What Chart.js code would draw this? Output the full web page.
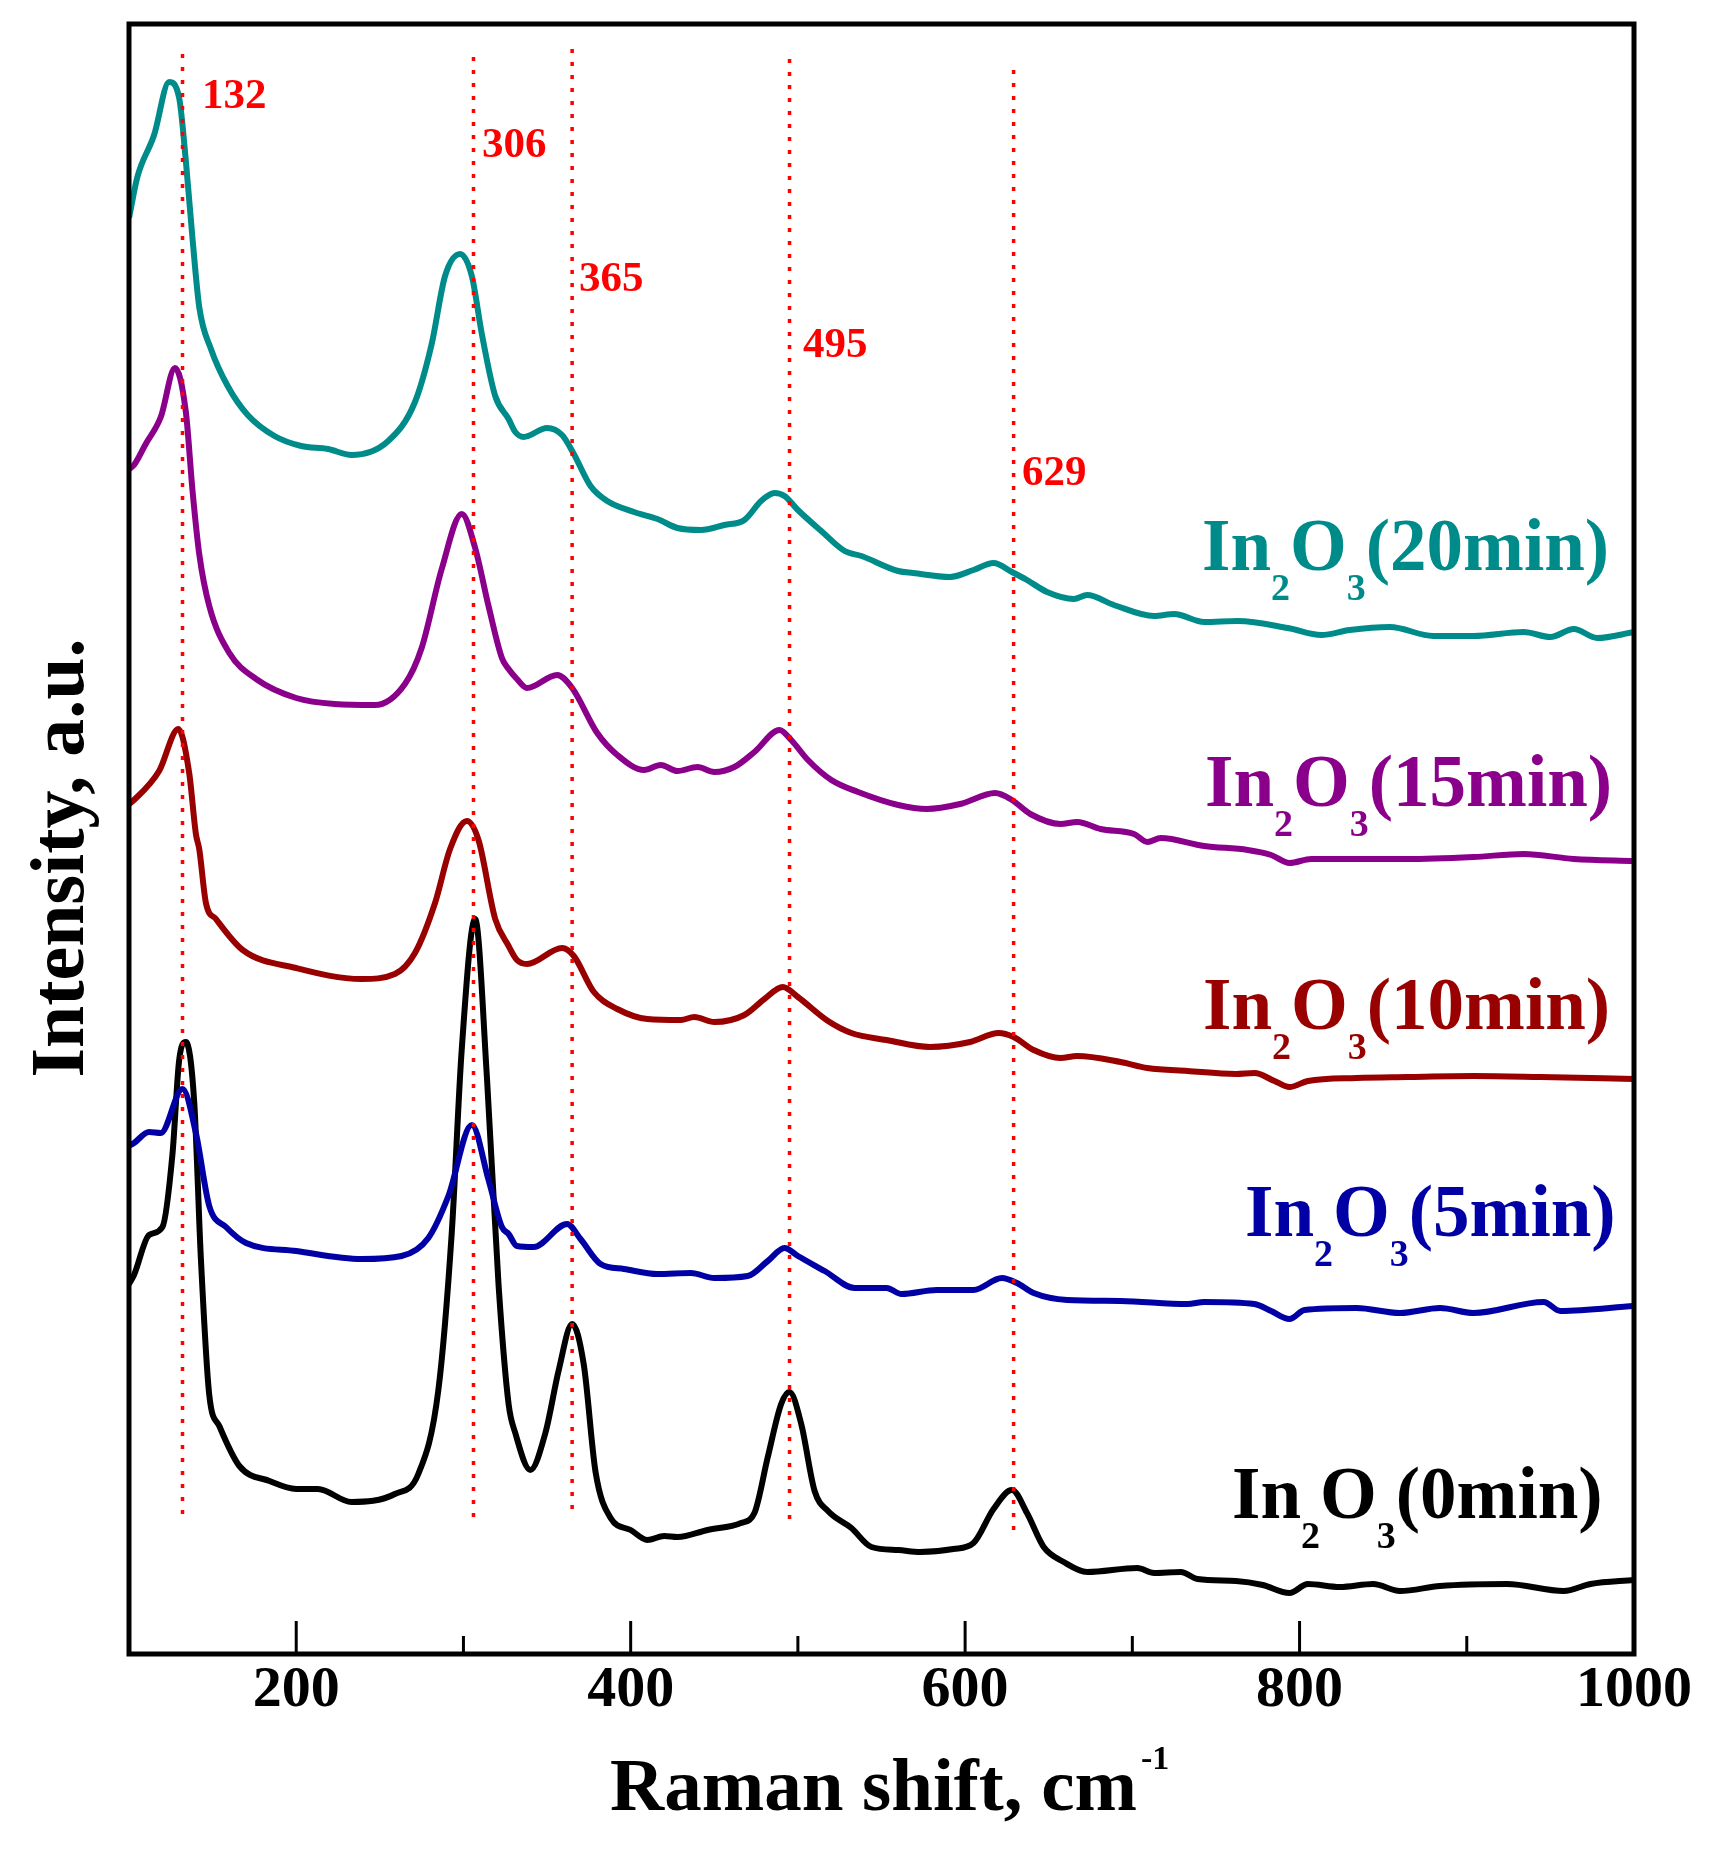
<!DOCTYPE html>
<html>
<head>
<meta charset="utf-8">
<script src="https://cdn.jsdelivr.net/npm/chart.js@4.4.0/dist/chart.umd.min.js"></script>
<style>
html, body { margin: 0; padding: 0; background: #fff; }
#chart { display: block; }
</style>
</head>
<body>
<canvas id="chart" width="1716" height="1850"></canvas>
<script>
// axis ticks (cm-1)
var xTicks = [200, 400, 600, 800, 1000];
var xMinorTicks = [300, 500, 700, 900];

// reference peaks, dotted markers
var peaks = [132, 306, 365, 495, 629];
var peakTop = [1600, 1597, 1605, 1595, 1584];
var peakBottom = [136, 133, 141, 131, 115];

// In2O3 (20min)
var shift20 = [100, 105, 115, 124, 130, 134, 138, 142, 149, 159, 171, 187, 203, 219, 233, 255, 271, 281, 289, 298, 305, 311, 319, 327, 331, 336, 350, 359, 366, 376, 386, 402, 416, 428, 442, 456, 468, 478, 486, 492, 500, 514, 528, 538, 560, 569, 591, 605, 617, 628, 637, 649, 665, 673, 689, 713, 725, 743, 763, 793, 813, 830, 854, 880, 904, 934, 950, 964, 978, 1000];
var int20 = [1436, 1477, 1519, 1572, 1556, 1493, 1415, 1347, 1305, 1268, 1239, 1218, 1208, 1205, 1199, 1213, 1252, 1310, 1378, 1400, 1378, 1320, 1258, 1235, 1222, 1217, 1226, 1219, 1200, 1168, 1153, 1142, 1135, 1126, 1124, 1129, 1134, 1153, 1161, 1158, 1144, 1123, 1103, 1098, 1083, 1081, 1077, 1084, 1091, 1082, 1074, 1062, 1055, 1059, 1049, 1038, 1040, 1032, 1033, 1026, 1019, 1024, 1027, 1018, 1018, 1022, 1017, 1025, 1016, 1022];

// In2O3 (15min)
var shift15 = [100, 103, 110, 119, 127.5, 134, 138, 142, 148, 160, 176, 200, 223, 247, 265, 275, 287, 299, 307, 315, 323, 327, 332, 338, 356, 365, 380, 392, 408, 418, 428, 440, 450, 462, 474, 489, 496, 506, 520, 536, 560, 577, 597, 618, 628, 639, 657, 667, 681, 701, 709, 717, 743, 769, 783, 794, 807, 834, 864, 904, 934, 964, 1000];
var int15 = [1185, 1189, 1210, 1237, 1286, 1242, 1163, 1100, 1048, 1001, 975, 956, 950, 949, 970, 1006, 1085, 1140, 1106, 1048, 996, 985, 975, 966, 979, 966, 921, 899, 884, 889, 883, 887, 882, 887, 902, 924, 914, 894, 874, 862, 849, 845, 850, 861, 854, 840, 830, 832, 825, 820, 812, 816, 808, 804, 799, 791, 795, 795, 795, 797, 800, 795, 793];

// In2O3 (10min)
var shift10 = [100, 103, 118, 129.5, 136, 140, 142, 146, 152, 168, 200, 239, 259, 271, 283, 292, 302, 309, 319, 327, 332, 338, 359, 366, 378, 392, 410, 430, 438, 450, 468, 480, 491, 500, 518, 532, 553, 579, 603, 620, 629, 641, 657, 667, 693, 709, 733, 762, 773, 785, 794, 805, 834, 864, 904, 944, 1000];
var int10 = [850, 854, 883, 925, 881, 820, 805, 751, 735, 704, 686, 675, 680, 701, 751, 805, 833, 814, 735, 708, 694, 690, 706, 698, 662, 645, 635, 634, 637, 632, 639, 655, 667, 657, 633, 621, 614, 607, 612, 621, 617, 604, 596, 598, 592, 586, 583, 580, 581, 573, 567, 573, 576, 577, 578, 577, 575];

// In2O3 (5min)
var shift5 = [100, 103, 112, 119, 132, 140, 148, 158, 170, 200, 239, 263, 279, 291, 305, 315, 323, 327, 332, 342, 362, 370, 382, 396, 416, 436, 450, 470, 482, 492, 500, 516, 534, 553, 562, 583, 605, 622, 631, 641, 661, 693, 733, 743, 773, 783, 794, 803, 834, 860, 884, 904, 946, 956, 1000];
var int5 = [508, 511, 522, 521, 565, 521, 448, 427, 411, 403, 395, 398, 416, 458, 529, 474, 427, 420, 408, 407, 430, 415, 390, 385, 380, 381, 376, 378, 393, 406, 398, 383, 366, 366, 360, 364, 364, 376, 371, 361, 354, 353, 350, 352, 350, 343, 335, 344, 346, 341, 346, 341, 352, 343, 348];

// In2O3 (0min)
var shift0 = [100, 103, 112, 120, 126, 130, 134, 139, 143, 148, 154, 166, 184, 200, 213, 233, 259, 273, 285, 293, 299, 307, 314, 321, 327, 331, 340, 349, 357, 365, 372, 379, 388, 400, 410, 420, 428, 446, 466, 474, 482, 490, 495, 502, 510, 518, 532, 544, 560, 573, 593, 605, 617, 628, 637, 647, 659, 673, 703, 713, 729, 739, 762, 778, 794, 805, 824, 844, 860, 884, 924, 958, 974, 1000];
var int0 = [370, 379, 419, 427, 500, 594, 612, 552, 395, 259, 228, 188, 173, 165, 165, 152, 160, 180, 264, 421, 605, 735, 578, 369, 250, 221, 184, 221, 284, 330, 289, 182, 136, 124, 114, 118, 117, 124, 131, 141, 197, 250, 262, 230, 163, 143, 126, 107, 104, 102, 105, 111, 145, 164, 141, 107, 92, 82, 86, 81, 82, 75, 73, 69, 61, 70, 67, 70, 63, 68, 70, 63, 70, 74];

var seriesTimes = ['20min', '15min', '10min', '5min', '0min'];
var seriesShift = [shift20, shift15, shift10, shift5, shift0];
var seriesInt = [int20, int15, int10, int5, int0];
var seriesColors = ['#008B8B', '#8B008B', '#990000', '#0000A5', '#000000'];

// text layout (canvas px)
var peakLabelPos = [[202, 108], [482, 157], [579, 291], [803, 357], [1022, 485]];
var seriesLabelPos = [[1202, 570], [1205, 806], [1203, 1029], [1245, 1236], [1232, 1518]];

var SERIF = "'Liberation Serif', 'Times New Roman', serif";

function toPoints(xs, ys) {
    return xs.map(function (x, i) { return { x: x, y: ys[i] }; });
}

var datasets = [];
peaks.forEach(function (p, i) {
    datasets.push({
        label: 'peak ' + p,
        data: [{ x: p, y: peakTop[i] }, { x: p, y: peakBottom[i] }],
        borderColor: '#FF0000',
        borderWidth: 3.5,
        borderDash: [4, 9],
        pointRadius: 0
    });
});
seriesTimes.forEach(function (t, i) {
    datasets.push({
        label: 'In2O3(' + t + ')',
        data: toPoints(seriesShift[i], seriesInt[i]),
        borderColor: seriesColors[i],
        borderWidth: 6,
        pointRadius: 0,
        cubicInterpolationMode: 'monotone',
        fill: false
    });
});

function drawFormula(ctx, x, y, time, color) {
    var parts = [['In', 0], ['2', 1], ['O', 0], ['3', 1], ['(' + time + ')', 0]];
    ctx.fillStyle = color;
    ctx.textAlign = 'left';
    ctx.textBaseline = 'alphabetic';
    parts.forEach(function (p) {
        if (p[1]) {
            ctx.font = 'bold 38px ' + SERIF;
            ctx.fillText(p[0], x, y + 30);
        } else {
            ctx.font = 'bold 73px ' + SERIF;
            ctx.fillText(p[0], x, y);
        }
        x += ctx.measureText(p[0]).width;
    });
}

var decor = {
    id: 'decor',
    afterDraw: function (chart) {
        var ctx = chart.ctx;
        var a = chart.chartArea;
        var xs = chart.scales.x;
        ctx.save();

        // inward ticks
        ctx.strokeStyle = '#000';
        ctx.lineWidth = 3;
        xTicks.forEach(function (v) {
            var px = xs.getPixelForValue(v);
            ctx.beginPath(); ctx.moveTo(px, a.bottom); ctx.lineTo(px, a.bottom - 33); ctx.stroke();
        });
        xMinorTicks.forEach(function (v) {
            var px = xs.getPixelForValue(v);
            ctx.beginPath(); ctx.moveTo(px, a.bottom); ctx.lineTo(px, a.bottom - 18); ctx.stroke();
        });

        // frame
        ctx.lineWidth = 5;
        ctx.strokeRect(a.left, a.top, a.right - a.left, a.bottom - a.top);

        // peak labels
        ctx.fillStyle = '#FF0000';
        ctx.font = 'bold 43px ' + SERIF;
        ctx.textAlign = 'left';
        ctx.textBaseline = 'alphabetic';
        peaks.forEach(function (p, i) {
            ctx.fillText(String(p), peakLabelPos[i][0], peakLabelPos[i][1]);
        });

        // series labels
        seriesTimes.forEach(function (t, i) {
            drawFormula(ctx, seriesLabelPos[i][0], seriesLabelPos[i][1], t, seriesColors[i]);
        });

        // x title
        ctx.fillStyle = '#000';
        ctx.font = 'bold 75px ' + SERIF;
        ctx.textAlign = 'left';
        var xt = 'Raman shift, cm';
        ctx.fillText(xt, 610, 1810);
        var w = ctx.measureText(xt).width;
        ctx.font = 'bold 34px ' + SERIF;
        ctx.fillText('-1', 610 + w + 4, 1769);

        // y title
        ctx.translate(83, 858);
        ctx.rotate(-Math.PI / 2);
        ctx.font = 'bold 76px ' + SERIF;
        ctx.textAlign = 'center';
        ctx.fillText('Intensity, a.u.', 0, 0);

        ctx.restore();
    }
};

new Chart(document.getElementById('chart'), {
    type: 'line',
    data: { datasets: datasets },
    options: {
        responsive: false,
        animation: false,
        devicePixelRatio: 1,
        layout: { padding: { left: 129, right: 82, top: 24, bottom: 0 } },
        plugins: {
            legend: { display: false },
            tooltip: { enabled: false }
        },
        scales: {
            x: {
                type: 'linear',
                min: 100,
                max: 1000,
                afterBuildTicks: function (s) { s.ticks = xTicks.map(function (v) { return { value: v }; }); },
                afterFit: function (s) { s.height = 196; },
                grid: { display: false, drawTicks: false },
                border: { display: false },
                ticks: {
                    color: '#000',
                    padding: 2,
                    maxRotation: 0,
                    autoSkip: false,
                    font: { family: SERIF, weight: 'bold', size: 58 },
                    callback: function (v) { return String(v); }
                }
            },
            y: {
                type: 'linear',
                min: 0,
                max: 1630,
                display: false
            }
        }
    },
    plugins: [decor]
});
</script>
</body>
</html>
